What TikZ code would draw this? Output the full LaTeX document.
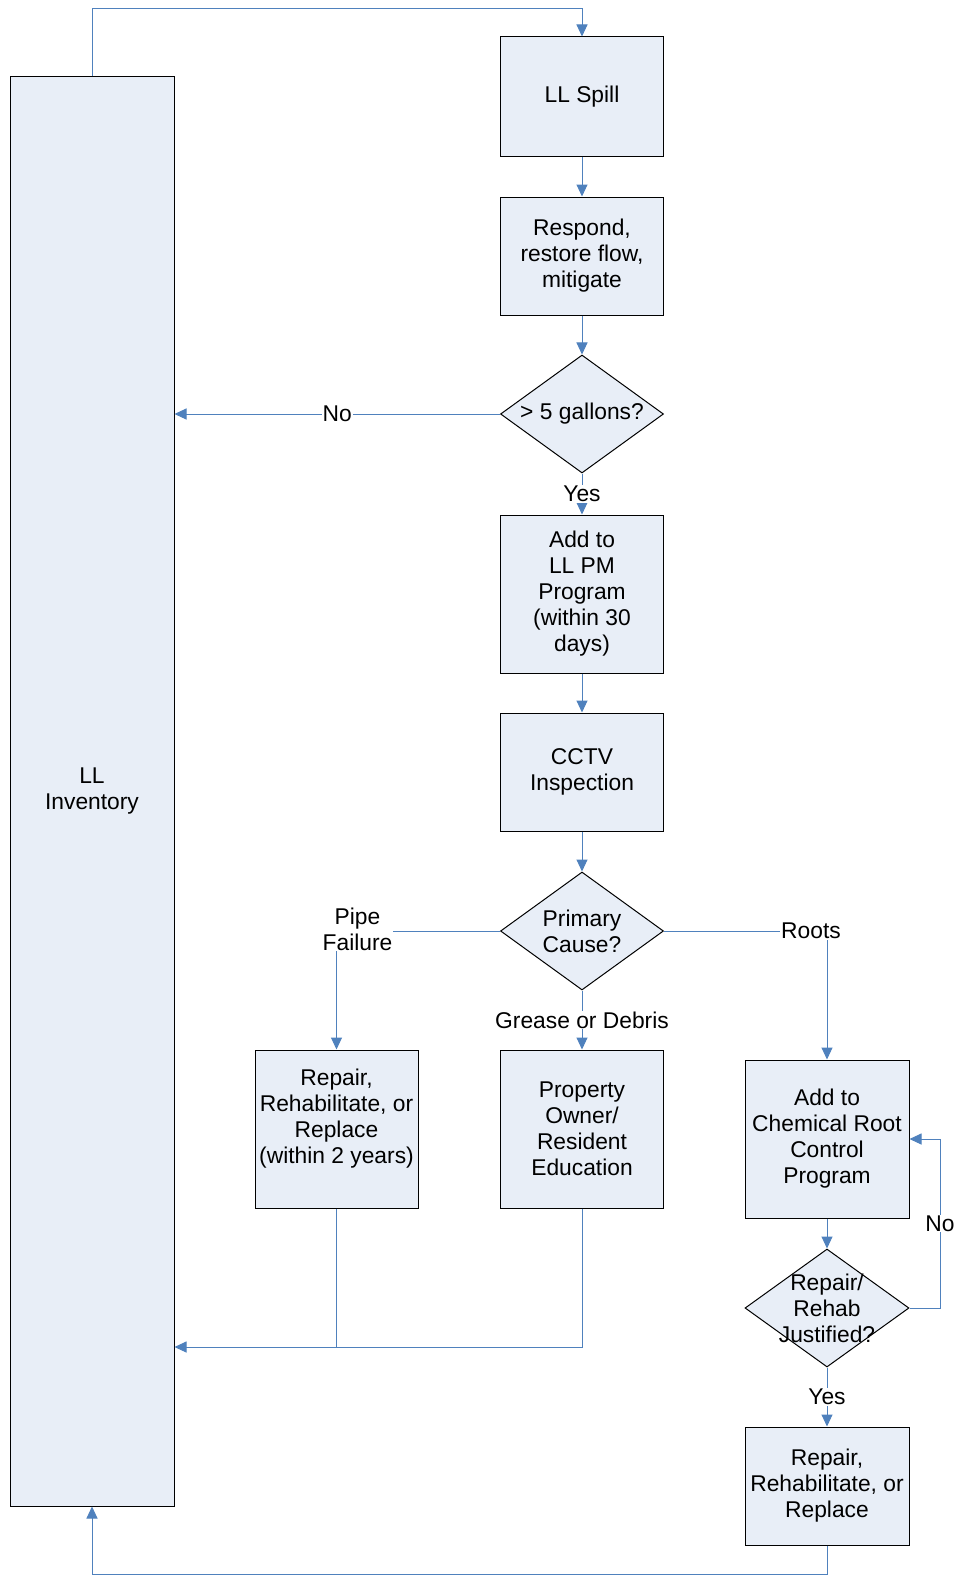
\documentclass[tikz,border=0pt]{standalone}
\usepackage{fontspec}
\setmainfont{Liberation Sans}
\usetikzlibrary{shapes.geometric,arrows.meta}
\definecolor{boxfill}{RGB}{232,238,247}
\definecolor{flowline}{RGB}{79,129,189}
\tikzset{
  stepbox/.style={draw=black, fill=boxfill, line width=1pt, minimum width=163pt, align=center, inner sep=2pt},
  decision/.style={draw=black, fill=boxfill, diamond, line width=1pt, minimum width=163pt, minimum height=118pt, inner sep=0pt},
  link/.style={draw=flowline, line width=1pt},
  flow/.style={link, -{Triangle[length=12pt,width=11pt]}},
  lbl/.style={fill=white, align=center, inner sep=1pt},
}
\begin{document}
\begin{tikzpicture}[x=1pt, y=-1pt, every node/.style={font=\fontsize{22.8}{26}\selectfont}]
	\useasboundingbox (0,0) rectangle (955,1576);
	\node[stepbox, minimum width=164pt, minimum height=1429pt] (inv) at (92,791.5) {LL\\Inventory};
	\node[stepbox, minimum height=119pt] (spill)   at (582,96.5) {LL Spill};
	\node[stepbox, minimum height=118pt] (respond) at (582,256)  {Respond,\\restore flow,\\mitigate};
	\node[decision, label={[align=center]center:> 5 gallons?}] (d1) at (582,414) {};
	\node[stepbox, minimum height=158pt] (addpm)   at (582,594)  {Add to\\LL PM\\Program\\(within 30\\days)};
	\node[stepbox, minimum height=118pt] (cctv)    at (582,772)  {CCTV\\Inspection};
	\node[decision, label={[align=center]center:Primary\\Cause?}] (d2) at (582,931) {};
	\node[stepbox, minimum height=158pt] (rrr1)    at (336.5,1129) {Repair,\\Rehabilitate, or\\Replace\\(within 2 years)\\ \mbox{}};
	\node[stepbox, minimum height=158pt] (edu)     at (582,1129) {Property\\Owner/\\Resident\\Education};
	\node[stepbox, minimum width=164pt, minimum height=158pt] (chem) at (827,1139) {Add to\\Chemical Root\\Control\\Program};
	\node[decision, minimum width=164pt, label={[align=center]center:Repair/\\Rehab\\Justified?}] (d3) at (827,1308) {};
	\node[stepbox, minimum width=164pt, minimum height=118pt] (rrr2) at (827,1486) {Repair,\\Rehabilitate, or\\Replace};
	%
	\coordinate (topbend) at (92,9);
	\coordinate (nobend)  at (940,1308);
	\coordinate (retjoin) at (582,1347);
	\coordinate (botbend) at (827,1574);
	%
	\draw[flow] (inv.north) -- (topbend) -| (spill.north);
	\draw[flow] (spill) -- (respond);
	\draw[flow] (respond) -- (d1);
	\draw[flow] (d1) -- node[lbl] {No} (inv.east |- d1);
	\draw[flow] (d1) -- node[lbl] {Yes} (addpm);
	\draw[flow] (addpm) -- (cctv);
	\draw[flow] (cctv) -- (d2);
	%
	\draw[flow] (d2) -| node[lbl, pos=0.5, xshift=21pt, yshift=2pt] {Pipe\\Failure} (rrr1);
	\draw[flow] (d2) -- node[lbl] {Grease or Debris} (edu);
	\draw[flow] (d2) -| node[lbl, pos=0.5, xshift=-16pt] {Roots} (chem);
	%
	\draw[flow] (chem) -- (d3);
	\draw[flow] (d3.east) -- (nobend) |- node[lbl, pos=0.25] {No} (chem.east);
	\draw[flow] (d3) -- node[lbl] {Yes} (rrr2);
	%
	\draw[link] (rrr1.south) -- (rrr1.south |- retjoin);
	\draw[flow] (edu.south) -- (retjoin) -- (inv.east |- retjoin);
	\draw[flow] (rrr2.south) -- (botbend) -| (inv.south);
\end{tikzpicture}
\end{document}
